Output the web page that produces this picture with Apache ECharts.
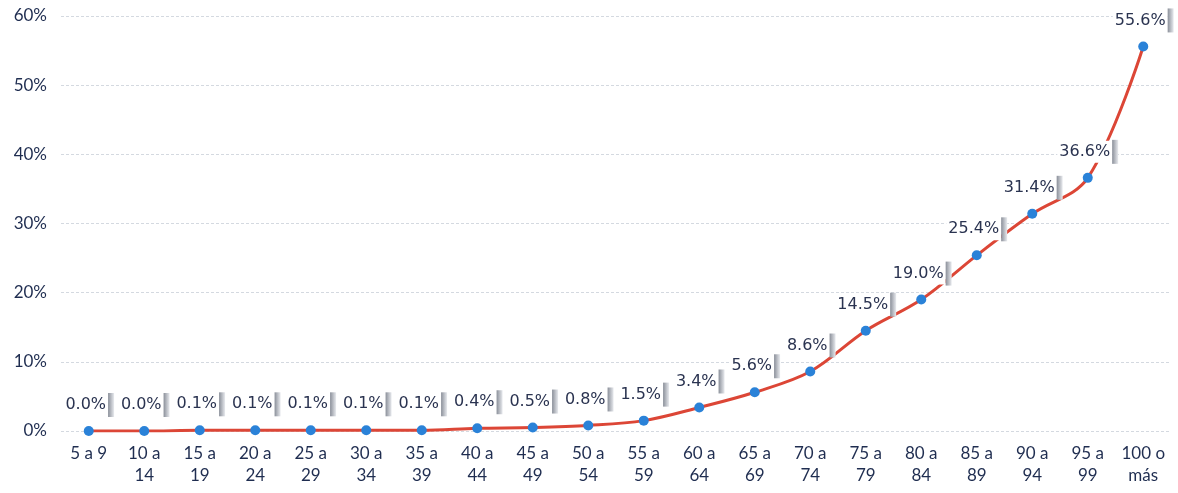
<!DOCTYPE html>
<html><head><meta charset="utf-8">
<script src="https://cdn.jsdelivr.net/npm/echarts@6/dist/echarts.min.js"></script>
<style>html,body{margin:0;padding:0;background:#fff}#c{width:1178px;height:493px}</style>
</head><body><div id="c"></div>
<script>
const categories = ["5 a 9","10 a\n14","15 a\n19","20 a\n24","25 a\n29","30 a\n34","35 a\n39","40 a\n44","45 a\n49","50 a\n54","55 a\n59","60 a\n64","65 a\n69","70 a\n74","75 a\n79","80 a\n84","85 a\n89","90 a\n94","95 a\n99","100 o\nmás"];
const values = [0.0,0.0,0.1,0.1,0.1,0.1,0.1,0.4,0.5,0.8,1.5,3.4,5.6,8.6,14.5,19.0,25.4,31.4,36.6,55.6];
const yTicks = [0,10,20,30,40,50,60];

const chart = echarts.init(document.getElementById('c'));
const txt = '#1f2d50';
chart.setOption({
  animation:false,
  grid:{left:61,right:7,top:16,bottom:62},
  xAxis:{type:'category',data:categories,boundaryGap:true,
    axisLine:{show:false},axisTick:{show:false},
    axisLabel:{color:txt,fontFamily:'Lato',fontSize:17,lineHeight:22,margin:12,interval:0}},
  yAxis:{type:'value',min:yTicks[0],max:yTicks[yTicks.length-1],interval:10,
    axisLabel:{color:txt,fontFamily:'Lato',fontSize:17,formatter:v=>v+'%',margin:14},
    splitLine:{lineStyle:{color:'#d4d9e0',type:[3,2],width:1}},
    axisLine:{show:false},axisTick:{show:false}},
  series:[{type:'line',data:values,smooth:0.35,
    lineStyle:{color:'#dc4636',width:3},
    symbol:'circle',symbolSize:10,
    itemStyle:{color:'#2a82d8'},
    label:{show:true,position:'top',distance:9,
      formatter:p=>'{t|'+p.value.toFixed(1)+'%}{b|}',
      rich:{
        t:{color:'#2a3350',fontFamily:'DejaVu Sans',fontSize:16,padding:[3,2,3,2],backgroundColor:'#fff'},
        b:{width:6,height:24,backgroundColor:{type:'linear',x:0,y:0,x2:1,y2:0,colorStops:[{offset:0,color:'#8a8f99'},{offset:1,color:'#e8eaee'}]}}
      }}
  }]
});
</script></body></html>
